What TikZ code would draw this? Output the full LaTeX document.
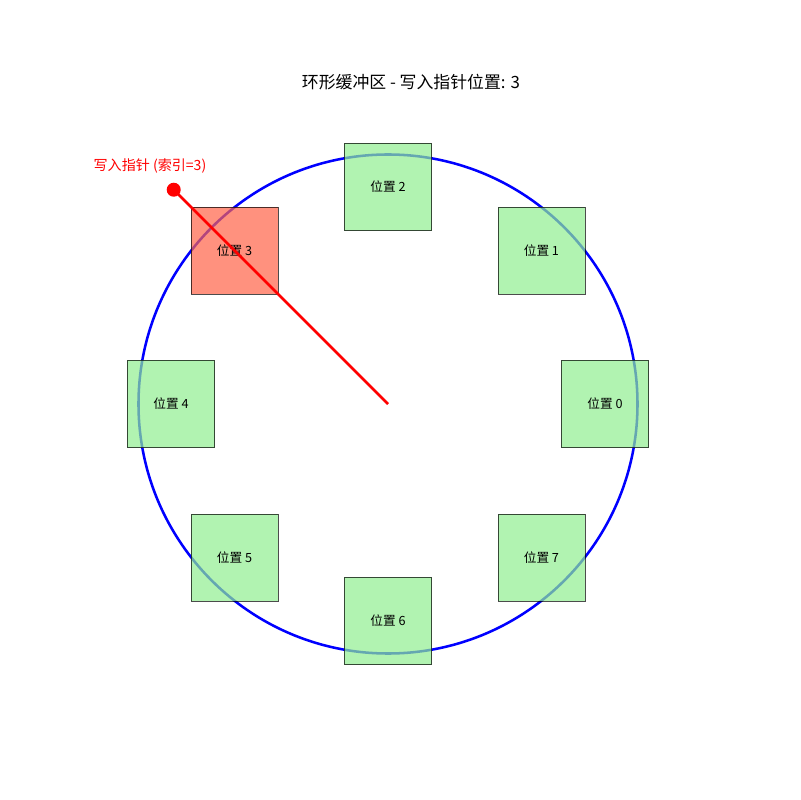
\documentclass[tikz,border=0pt]{standalone}
\usepackage{fontspec}
\setmainfont{Noto Sans CJK SC}
\definecolor{slotgreen}{RGB}{144,238,144}
\definecolor{slotred}{RGB}{255,99,71}
\tikzset{
  slot/.style={draw=black,draw opacity=0.7,fill=slotgreen,fill opacity=0.7,text opacity=1,
    minimum size=2.175cm,inner sep=0pt,font=\fontsize{9}{11}\selectfont},
  pointer/.style={red,line width=1.8pt}
}
\begin{document}
\begin{tikzpicture}
    [x=0.025cm,y=0.025cm]
    \useasboundingbox (-388,-396) rectangle (412,404);
    %ring
    \draw[blue,line width=1.8pt] (0,0) circle (249.5);
    %slots
    \foreach \k in {0,1,2,4,5,6,7}
      \node[slot] (s\k) at (45*\k:217) {位置 \k};
    \node[slot,fill=slotred] (s3) at (135:217) {位置 3};
    %write pointer
    \coordinate (c) at (0,0);
    \node[circle,fill=red,inner sep=0pt,minimum size=0.35cm] (ptr) at (135:303) {};
    \draw[pointer] (c) -- (ptr.center);
    \node[red,font=\fontsize{10}{12}\selectfont] (plabel) at (-238,238) {写入指针 (索引=3)};
    %title
    \node[font=\fontsize{12}{14}\selectfont] (title) at (23,322) {环形缓冲区 - 写入指针位置: 3};
\end{tikzpicture}
\end{document}
